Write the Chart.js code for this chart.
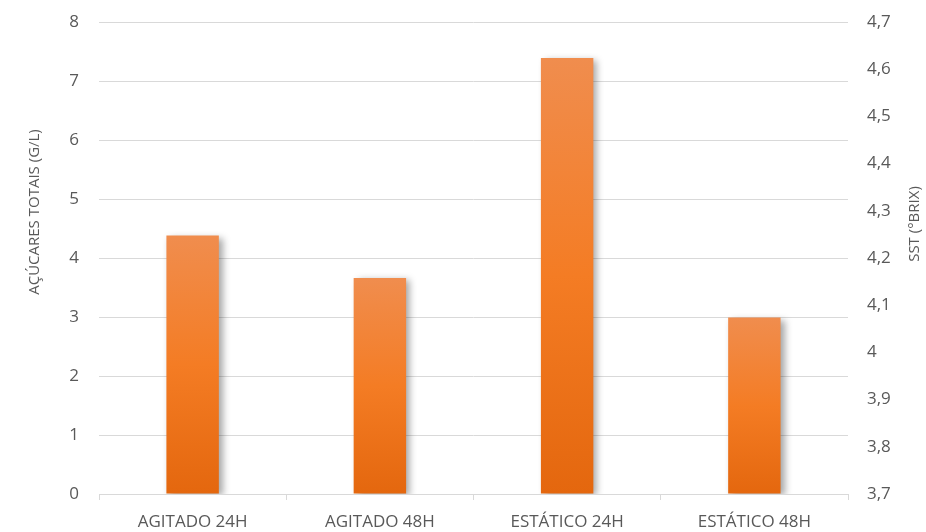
<!DOCTYPE html>
<html>
<head>
<meta charset="utf-8">
<script src="https://cdn.jsdelivr.net/npm/chart.js@4/dist/chart.umd.min.js"></script>
<style>
  html, body { margin: 0; padding: 0; background: #fff; }
  #wrap { width: 926px; height: 532px; }
</style>
</head>
<body>
<div id="wrap"><canvas id="chart"></canvas></div>
<script>
const categories = ['AGITADO 24H', 'AGITADO 48H', 'ESTÁTICO 24H', 'ESTÁTICO 48H']
const acucares = [4.38, 3.66, 7.39, 2.99]
const leftTicks = [0, 8, 1]
const rightTicks = [3.7, 4.7, 0.1]
const leftTitle = 'AÇÚCARES TOTAIS (G/L)'
const rightTitle = 'SST (°BRIX)'

const textColor = '#595959'
const gridColor = '#d9d9d9'
const font = 'Open Sans'

const barShadow = {
  id: 'barShadow',
  beforeDatasetsDraw: (chart) => {
    const ctx = chart.ctx
    ctx.save()
    ctx.shadowColor = 'rgba(0,0,0,0.35)'
    ctx.shadowBlur = 7
    ctx.shadowOffsetX = 4
    ctx.shadowOffsetY = 2
  },
  afterDatasetsDraw: (chart) => {
    chart.ctx.restore()
  }
}

// axis titles, placed like the excel original (not centred on the plot)
const axisTitles = {
  id: 'axisTitles',
  afterDraw: (chart) => {
    const ctx = chart.ctx
    ctx.save()
    ctx.fillStyle = textColor
    ctx.font = '15px "' + font + '"'
    ctx.textAlign = 'center'
    ctx.textBaseline = 'middle'
    ctx.translate(35, 212)
    ctx.rotate(-Math.PI / 2)
    ctx.fillText(leftTitle, 0, 0)
    ctx.restore()

    ctx.save()
    ctx.fillStyle = textColor
    ctx.font = '15px "' + font + '"'
    ctx.textAlign = 'center'
    ctx.textBaseline = 'middle'
    ctx.translate(915, 224)
    ctx.rotate(-Math.PI / 2)
    ctx.fillText(rightTitle, 0, 0)
    ctx.restore()
  }
}

function barFill(context) {
  const chart = context.chart
  const area = chart.chartArea
  if (!area) return '#f07a22'
  const v = context.raw
  const top = chart.scales.y.getPixelForValue(v)
  const g = chart.ctx.createLinearGradient(0, top, 0, area.bottom)
  g.addColorStop(0, '#f08d4e')
  g.addColorStop(0.5, '#f47c24')
  g.addColorStop(1, '#e4670e')
  return g
}

function commaTick(v) {
  return String(Number(v.toFixed(1))).replace('.', ',')
}

function fixWidth(w) {
  return (scale) => {
    scale.width = w
    scale.paddingTop = 0
    scale.paddingBottom = 0
  }
}

const ctx = document.getElementById('chart').getContext('2d')

const data = {
  labels: categories,
  datasets: [{
    label: 'Açúcares totais',
    data: acucares,
    backgroundColor: barFill,
    borderWidth: 0,
    barPercentage: 0.28,
    categoryPercentage: 1,
    yAxisID: 'y'
  }]
}

const options = {
  responsive: true,
  maintainAspectRatio: false,
  animation: false,
  layout: { padding: { top: 22, left: 0, right: 0, bottom: 0 } },
  plugins: {
    legend: { display: false },
    tooltip: { enabled: false }
  },
  scales: {
    x: {
      grid: { drawOnChartArea: false, drawTicks: true, tickLength: 6, color: gridColor },
      border: { color: gridColor },
      ticks: { color: textColor, font: { family: font, size: 17 }, padding: 12 },
      afterFit: (scale) => {
        scale.height = 38
        scale.paddingLeft = 0
        scale.paddingRight = 0
      }
    },
    y: {
      position: 'left',
      min: leftTicks[0],
      max: leftTicks[1],
      ticks: { stepSize: leftTicks[2], color: textColor, font: { family: font, size: 17 }, padding: 20 },
      grid: { color: gridColor, drawTicks: false },
      border: { display: false },
      afterFit: fixWidth(99)
    },
    y2: {
      position: 'right',
      min: rightTicks[0],
      max: rightTicks[1],
      ticks: {
        stepSize: rightTicks[2],
        color: textColor,
        font: { family: font, size: 17 },
        padding: 19,
        callback: (v) => commaTick(v)
      },
      grid: { drawOnChartArea: false, drawTicks: false },
      border: { display: false },
      afterFit: fixWidth(78)
    }
  }
}

const myChart = new Chart(ctx, {
  type: 'bar',
  data,
  options,
  plugins: [barShadow, axisTitles]
})
</script>
</body>
</html>
